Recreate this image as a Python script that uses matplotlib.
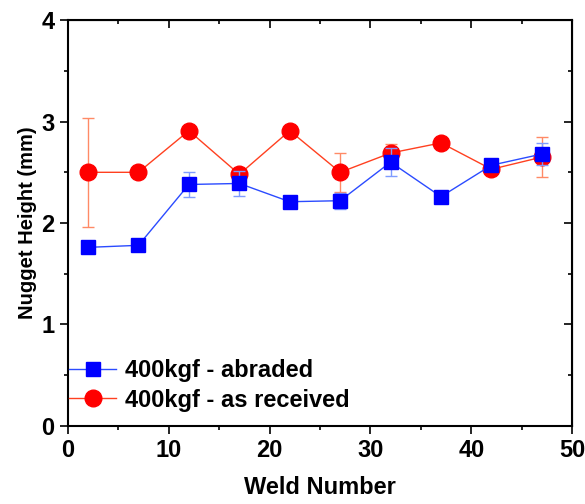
import matplotlib
matplotlib.use('Agg')
import matplotlib.pyplot as plt
from matplotlib.ticker import MultipleLocator

plt.rcParams['font.family'] = ['Liberation Sans', 'DejaVu Sans']
plt.rcParams['font.weight'] = 'bold'

# ── Data ──────────────────────────────────────────────────────────────────
weld = [2, 7, 12, 17, 22, 27, 32, 37, 42, 47]
abraded = [1.76, 1.78, 2.38, 2.39, 2.21, 2.22, 2.60, 2.26, 2.57, 2.68]
abraded_err = [0.0, 0.0, 0.12, 0.12, 0.05, 0.08, 0.14, 0.0, 0.03, 0.11]
received = [2.50, 2.50, 2.91, 2.48, 2.91, 2.50, 2.69, 2.79, 2.53, 2.65]
received_err = [0.54, 0.0, 0.0, 0.06, 0.0, 0.19, 0.09, 0.0, 0.03, 0.20]

BLUE = '#0000ff'
RED = '#ff0000'

fig = plt.figure(figsize=(5.85, 5.04), dpi=100)
ax = fig.add_axes([0.116, 0.155, 0.862, 0.805])

eb1 = ax.errorbar(weld, abraded, yerr=abraded_err, color='#2b4bff', lw=1.0,
                  marker='s', ms=10, mfc=BLUE, mec=BLUE, ecolor='#7f9cff',
                  elinewidth=1.0, capsize=4, capthick=1.0, zorder=3)
eb2 = ax.errorbar(weld, received, yerr=received_err, color='#ff4020', lw=1.0,
                  marker='o', ms=12, mfc=RED, mec=RED, ecolor='#ff8a66',
                  elinewidth=1.0, capsize=4, capthick=1.0, zorder=2)

ax.set_xlim(0, 50)
ax.set_ylim(0, 4)
ax.xaxis.set_major_locator(MultipleLocator(10))
ax.xaxis.set_minor_locator(MultipleLocator(5))
ax.yaxis.set_major_locator(MultipleLocator(1))
ax.yaxis.set_minor_locator(MultipleLocator(0.5))

ax.tick_params(which='both', direction='out', width=1.2, labelsize=17)
ax.tick_params(which='major', length=6)
ax.tick_params(which='minor', length=3)
for s in ax.spines.values():
    s.set_linewidth(1.5)

# inward ticks on the right and top
ax2 = ax.secondary_yaxis('right')
ax2.yaxis.set_major_locator(MultipleLocator(1))
ax2.yaxis.set_minor_locator(MultipleLocator(0.5))
ax2.tick_params(which='both', direction='in', labelright=False, width=1.2)
ax2.tick_params(which='major', length=6)
ax2.tick_params(which='minor', length=3)
ax3 = ax.secondary_xaxis('top')
ax3.xaxis.set_major_locator(MultipleLocator(10))
ax3.xaxis.set_minor_locator(MultipleLocator(5))
ax3.tick_params(which='both', direction='in', labeltop=False, width=1.2)
ax3.tick_params(which='major', length=6)
ax3.tick_params(which='minor', length=3)

ax.set_xlabel('Weld Number', fontsize=17, fontweight='bold', labelpad=10)
ax.set_ylabel('Nugget Height (mm)', fontsize=14.5, fontweight='bold', labelpad=3)

ax.legend([eb1[0], eb2[0]], ['400kgf - abraded', '400kgf - as received'],
          loc='lower left', bbox_to_anchor=(-0.016, 0.012), borderaxespad=0.0,
          frameon=False, fontsize=17, handlelength=2.0, handletextpad=0.35,
          labelspacing=0.27)

fig.savefig('out.png', dpi=100)
